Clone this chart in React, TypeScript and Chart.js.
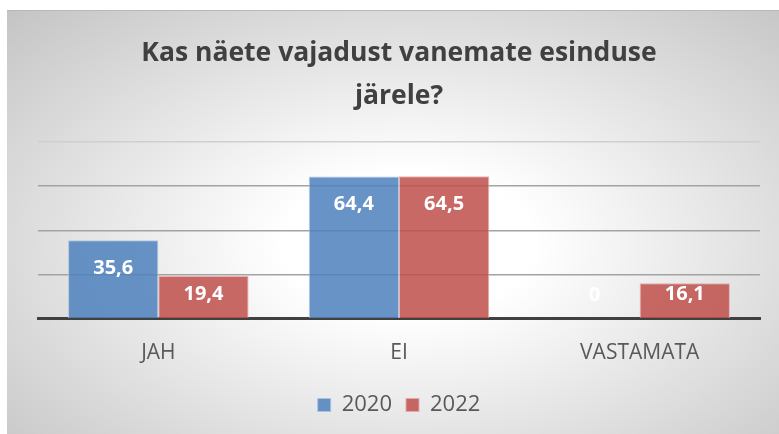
import React, { useEffect, useRef } from "react";
import { Chart, registerables } from "chart.js";

Chart.register(...registerables);

const categories = ["JAH", "EI", "VASTAMATA"];
const seriesLabels = ["2020", "2022"];
const values2020 = [35.6, 64.4, 0];
const values2022 = [19.4, 64.5, 16.1];
const titleLines = ["Kas näete vajadust vanemate esinduse", "järele?"];
const yMin = 0;
const yMax = 80;
const yStep = 20;

const fmt = (v: number) => String(v).replace(".", ",");

const dataLabelPlugin = {
  id: "dataLabels",
  afterDatasetsDraw(chart: any) {
    const ctx = chart.ctx;
    ctx.save();
    ctx.font = "bold 20px 'Open Sans'";
    ctx.fillStyle = "#ffffff";
    ctx.textAlign = "center";
    ctx.textBaseline = "middle";
    chart.data.datasets.forEach((ds: any, di: number) => {
      const meta = chart.getDatasetMeta(di);
      meta.data.forEach((el: any, i: number) => {
        const h = el.base - el.y;
        const cy = el.y + Math.min(28, h - 24);
        ctx.fillText(fmt(ds.data[i]), el.x, cy);
      });
    });
    ctx.restore();
  },
};

export default function App() {
  const ref = useRef<HTMLCanvasElement>(null);
  useEffect(() => {
    const chart = new Chart(ref.current!, {
      type: "bar",
      data: {
        labels: categories,
        datasets: [
          {
            label: seriesLabels[0],
            data: values2020,
            backgroundColor: "rgba(79,129,189,0.86)",
            borderColor: "rgba(170,195,225,0.9)",
            borderWidth: 1,
          },
          {
            label: seriesLabels[1],
            data: values2022,
            backgroundColor: "rgba(192,80,77,0.86)",
            borderColor: "rgba(230,170,170,0.9)",
            borderWidth: 1,
          },
        ],
      },
      options: {
        animation: false,
        responsive: false,
        maintainAspectRatio: false,
        datasets: { bar: { categoryPercentage: 0.75, barPercentage: 1 } },
        layout: { padding: { left: 31, right: 19, top: 0, bottom: 8 } },
        plugins: {
          title: {
            display: true,
            text: titleLines,
            color: "#404040",
            font: { family: "'Open Sans'", size: 26.5, weight: "bold", lineHeight: 1.623 },
            padding: { top: 21, bottom: 24 },
          },
          legend: {
            display: true,
            position: "bottom",
            labels: {
              color: "#595959",
              font: { family: "'Open Sans'", size: 22 },
              boxWidth: 13,
              boxHeight: 13,
              padding: 14,
            },
          },
          tooltip: { enabled: false },
        },
        scales: {
          x: {
            grid: { display: false, drawTicks: false },
            border: { display: true, color: "#404040", width: 3 },
            ticks: {
              color: "#595959",
              font: { family: "'Open Sans'", size: 21 },
              padding: 22,
            },
            afterFit: (scale: any) => {
              scale.height = scale.height - 8;
            },
          },
          y: {
            min: yMin,
            max: yMax,
            ticks: { display: false, stepSize: yStep },
            border: { display: false },
            grid: {
              drawTicks: false,
              lineWidth: 1.5,
              color: (c: any) =>
                c.tick && c.tick.value === yMax ? "#cfcfcf" : c.tick && c.tick.value === yMin ? "rgba(0,0,0,0)" : "#a3a3a3",
            },
          },
        },
      },
      plugins: [dataLabelPlugin],
    });
    return () => chart.destroy();
  }, []);

  return (
    <div
      style={{
        position: "fixed",
        left: 7,
        top: 10,
        width: 772,
        height: 424,
        borderTop: "1px solid #b8b8b8",
        boxSizing: "border-box",
        background:
          "radial-gradient(ellipse farthest-corner at 52% 55%, #ffffff 0%, #ffffff 22%, #c4c4c4 100%)",
      }}
    >
      <canvas ref={ref} width={772} height={423} style={{ display: "block" }} />
    </div>
  );
}
